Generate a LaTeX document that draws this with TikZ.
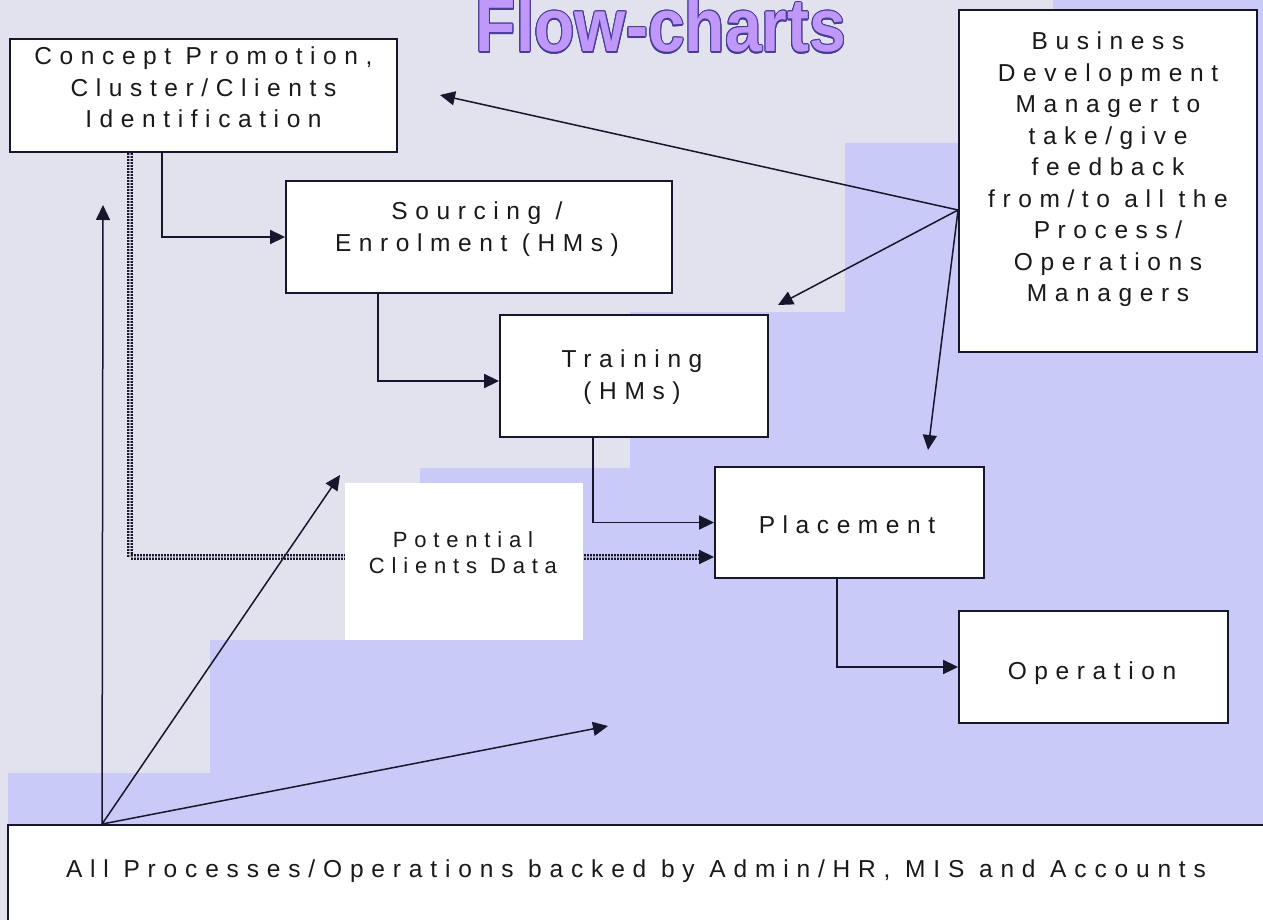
\documentclass[tikz,border=0pt]{standalone}
\usepackage{fontspec}
\usepackage{contour}
\usetikzlibrary{arrows.meta}
\newfontfamily\boxfont[LetterSpace=31]{Liberation Sans}
\newfontfamily\wideboxfont[LetterSpace=32]{Liberation Sans}
\newfontfamily\titlefont{Liberation Sans}
\definecolor{hatch}{RGB}{226,226,238}
\definecolor{lav}{RGB}{202,202,248}
\definecolor{ink}{RGB}{22,22,44}
\definecolor{titlefill}{RGB}{192,152,250}
\definecolor{titleline}{RGB}{72,60,150}
\contourlength{1.2pt}
\begin{document}
\begin{tikzpicture}[x=1pt,y=-1pt,
  box/.style={draw=ink,line width=1.9pt,fill=white,inner sep=0pt},
  plain/.style={fill=white,inner sep=0pt},
  txt/.style={font=\boxfont\fontsize{24.5}{31.5}\selectfont,align=center,inner sep=0pt,text=black!90},
  smalltxt/.style={font=\boxfont\fontsize{22}{26}\selectfont,align=center,inner sep=0pt,text=black!90},
  arr/.style={draw=ink,line width=1.5pt,-{Triangle[length=15pt,width=14pt]}},
  flow/.style={draw=ink,line width=1.9pt,-{Triangle[length=15pt,width=14pt]}},
  dotline/.style={draw=ink,line width=2pt,dash pattern=on 1.6pt off 1.4pt,double=hatch!60!ink,double distance=2.5pt}
]
\useasboundingbox (0,0) rectangle (1263,920);
% background
\fill[hatch] (0,0) rectangle (1263,920);
\fill[lav] (1053,0) -- (1263,0) -- (1263,920) -- (8,920) -- (8,773) -- (210,773)
  -- (210,640) -- (420,640) -- (420,468) -- (630,468) -- (630,312) -- (845,312)
  -- (845,143) -- (1053,143) -- cycle;
% title
\node[anchor=base,inner sep=0pt,font=\titlefont\bfseries\fontsize{75}{75}\selectfont] (title) at (661,52)
  {\scalebox{0.88}[1]{\textcolor{titlefill}{\contour{titleline}{Flow-charts}}}};
% boxes
\node[box,minimum width=387,minimum height=113] (concept) at (203.5,95.5) {};
\node[box,minimum width=386,minimum height=112] (sourcing) at (479,237) {};
\node[box,minimum width=268,minimum height=122] (training) at (634,376) {};
\node[box,minimum width=269,minimum height=111] (placement) at (849.5,522.5) {};
\node[box,minimum width=269,minimum height=112] (operation) at (1093.5,667) {};
\node[box,minimum width=298,minimum height=342] (business) at (1108,181) {};
\node[box,minimum width=1272,minimum height=115] (allbox) at (644,882.5) {};
% dotted connector (behind the data box)
\path ([yshift=-34.5pt]placement.west) coordinate (dotin);
\draw[dotline] ([xshift=-73.5pt]concept.south) |- ([xshift=-12pt]dotin);
\draw[flow] ([xshift=-15pt]dotin) -- (dotin);
\node[plain,minimum width=238,minimum height=157] (potential) at (464,561.5) {};
% texts
\node[txt,anchor=north] (tconcept) at (203.5,47) {Concept Promotion,\\Cluster/Clients\\Identification};
\node[txt,anchor=north] (tsourcing) at (477,202) {Sourcing /\\Enrolment (HMs)};
\node[txt,anchor=north] (ttraining) at (632,350) {Training\\(HMs)};
\node[txt,anchor=base] (tplacement) at (847,533) {Placement};
\node[txt,anchor=base] (toperation) at (1092,679) {Operation};
\node[txt,anchor=north] (tbusiness) at (1108,32) {Business\\Development\\Manager to\\take/give\\feedback\\from/to all the\\Process/\\Operations\\Managers};
\node[smalltxt,anchor=north] (tpotential) at (463,531) {Potential\\Clients Data};
\node[txt,anchor=base,font=\wideboxfont\fontsize{24.5}{31.5}\selectfont] (tall) at (636,877) {All Processes/Operations backed by Admin/HR, MIS and Accounts};
% flow connectors
\draw[flow] ([xshift=-41.5pt]concept.south) |- (sourcing.west);
\draw[flow] ([xshift=-101pt]sourcing.south) |- ([yshift=-5pt]training.west);
\draw[flow] ([xshift=-41pt]training.south) |- (placement.west);
\draw[flow] ([xshift=-12.5pt]placement.south) |- (operation.west);
% business manager feedback arrows
\path ([yshift=-29pt]business.west) coordinate (bsrc);
\coordinate (b1) at (440,95);
\coordinate (b2) at (778,305);
\coordinate (b3) at (928,450);
\draw[arr] (bsrc) -- (b1);
\draw[arr] (bsrc) -- (b2);
\draw[arr] (bsrc) -- (b3);
% support arrows from the bottom box
\path ([xshift=95pt]allbox.north west) coordinate (asrc);
\coordinate (a1) at (103,205);
\coordinate (a2) at (340,475);
\coordinate (a3) at (608,726);
\draw[arr] (asrc) -- (a1);
\draw[arr] (asrc) -- (a2);
\draw[arr] (asrc) -- (a3);
\end{tikzpicture}
\end{document}
